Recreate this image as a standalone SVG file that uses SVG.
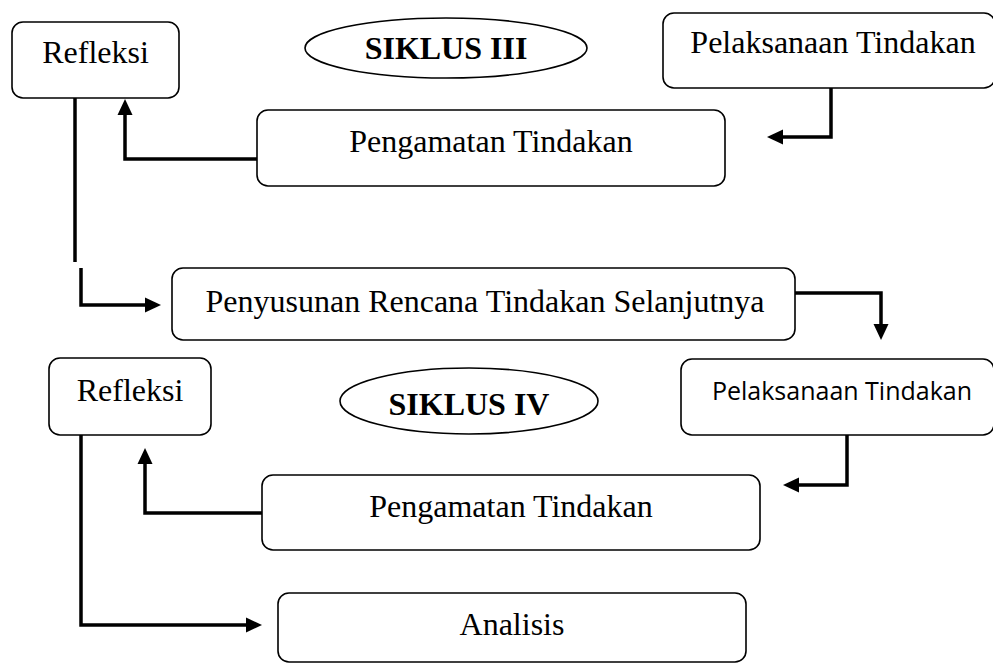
<svg xmlns="http://www.w3.org/2000/svg" width="993" height="663" viewBox="0 0 993 663">
<style>
.box{fill:#fff;stroke:#000;stroke-width:1.6}
.t{font-family:"Liberation Serif","Times New Roman",serif;font-size:32px;fill:#000;text-anchor:middle}
.b{font-weight:bold}
.s{font-family:"Open Sans","Noto Sans",sans-serif;font-size:25px;fill:#000;text-anchor:middle}
.c{fill:none;stroke:#000;stroke-width:3.5;marker-end:url(#ah)}
.n{fill:none;stroke:#000;stroke-width:3.5}
</style>
<defs>
<marker id="ah" markerUnits="userSpaceOnUse" markerWidth="16" markerHeight="15" refX="0" refY="7.5" orient="auto" overflow="visible">
<path d="M0,0 L16,7.5 L0,15 Z" fill="#000"/>
</marker>
</defs>
<rect width="993" height="663" fill="#fff"/>
<g id="connectors">
<path class="c" d="M257,159 H125 V115"/>
<path class="c" d="M831,88 V137 H783"/>
<path class="n" d="M75,98 V262"/>
<path class="c" d="M81,268 V305 H145"/>
<path class="c" d="M795,293 H881 V324"/>
<path class="c" d="M847,435 V485 H799"/>
<path class="c" d="M262,513 H145 V464"/>
<path class="c" d="M81,435 V625 H246"/>
</g>
<g id="refleksi3"><rect class="box" x="12" y="22" width="167" height="76" rx="11"/><text class="t" x="95.5" y="63">Refleksi</text></g>
<g id="siklus3"><ellipse class="box" cx="446" cy="48" rx="141" ry="30"/><text class="t b" x="446" y="59">SIKLUS III</text></g>
<g id="pelaksanaan3"><rect class="box" x="663" y="13" width="332" height="75" rx="11"/><text class="t" x="833" y="53">Pelaksanaan Tindakan</text></g>
<g id="pengamatan3"><rect class="box" x="257" y="110" width="468" height="76" rx="11"/><text class="t" x="491" y="152">Pengamatan Tindakan</text></g>
<g id="penyusunan"><rect class="box" x="172" y="268" width="623" height="72" rx="11"/><text class="t" x="485" y="312">Penyusunan Rencana Tindakan Selanjutnya</text></g>
<g id="refleksi4"><rect class="box" x="49" y="358" width="162" height="77" rx="11"/><text class="t" x="130" y="401">Refleksi</text></g>
<g id="siklus4"><ellipse class="box" cx="469" cy="401" rx="129" ry="33"/><text class="t b" x="469" y="415">SIKLUS IV</text></g>
<g id="pelaksanaan4"><rect class="box" x="681" y="359" width="313" height="76" rx="11"/><text class="s" x="842" y="400">Pelaksanaan Tindakan</text></g>
<g id="pengamatan4"><rect class="box" x="262" y="475" width="498" height="75" rx="11"/><text class="t" x="511" y="517">Pengamatan Tindakan</text></g>
<g id="analisis"><rect class="box" x="278" y="593" width="468" height="69" rx="11"/><text class="t" x="512" y="635">Analisis</text></g>
</svg>
